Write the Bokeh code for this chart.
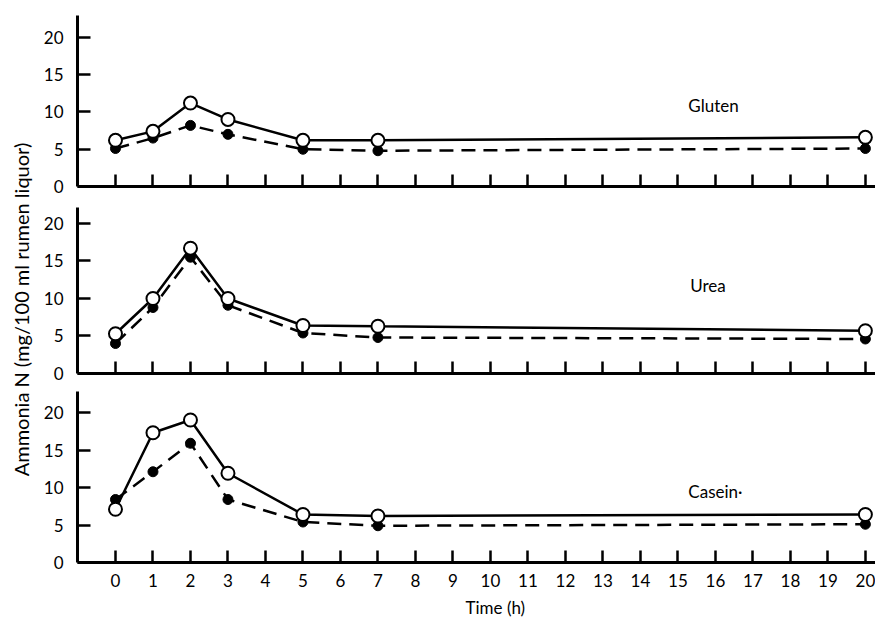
import math
from bokeh.plotting import figure
from bokeh.layouts import column, row
from bokeh.models import FixedTicker, Label, Range1d, Title
from bokeh.embed import file_html
from bokeh.resources import INLINE

# ---- data ----
times = [0, 1, 2, 3, 5, 7, 20]
x_ticks = list(range(0, 21))
y_ticks = [0, 5, 10, 15, 20]

gluten_open = [6.2, 7.4, 11.2, 9.0, 6.2, 6.2, 6.6]
gluten_filled = [5.1, 6.5, 8.2, 7.0, 5.0, 4.8, 5.1]
urea_open = [5.3, 10.0, 16.7, 10.0, 6.4, 6.3, 5.7]
urea_filled = [4.0, 8.8, 15.5, 9.1, 5.4, 4.8, 4.6]
casein_open = [7.1, 17.3, 19.0, 11.9, 6.4, 6.2, 6.4]
casein_filled = [8.4, 12.1, 15.9, 8.4, 5.4, 4.9, 5.1]

panel_names = ["Gluten", "Urea", "Casein\u00b7"]
y_label = "Ammonia N (mg/100 ml rumen liquor)"
x_label = "Time (h)"

FONT = "Lato"
LEFT_W = 38
TOTAL_H = 620


def make_panel(y_open, y_filled, name, name_xy, top, fh, bottom, ymax, last):
    p = figure(frame_width=798, frame_height=fh,
               min_border_left=77 - LEFT_W, min_border_right=0,
               min_border_top=top, min_border_bottom=bottom,
               x_range=Range1d(-1.013, 20.27), y_range=Range1d(0, ymax),
               output_backend="svg", toolbar_location=None,
               background_fill_color="white", border_fill_color="white")
    p.outline_line_color = None
    p.grid.visible = False

    for ax in (p.xaxis[0], p.yaxis[0]):
        ax.axis_line_width = 3
        ax.axis_line_color = "black"
        ax.major_tick_line_width = 2.5
        ax.major_tick_line_color = "black"
        ax.major_tick_out = 0
        ax.minor_tick_line_color = None
        ax.major_label_text_font = FONT
        ax.major_label_text_font_size = "17px"
        ax.major_label_text_color = "black"
    p.xaxis.ticker = FixedTicker(ticks=x_ticks)
    p.yaxis.ticker = FixedTicker(ticks=y_ticks)
    p.xaxis.major_tick_in = 12
    p.yaxis.major_tick_in = 13
    p.yaxis.major_label_standoff = 14
    if last:
        p.xaxis.major_label_standoff = 11
    else:
        p.xaxis.major_label_overrides = {t: "" for t in x_ticks}
        p.xaxis.major_label_standoff = 0

    p.line(times, y_filled, line_color="black", line_width=2.5, line_dash="14 8")
    p.line(times, y_open, line_color="black", line_width=2.5)
    p.scatter(times, y_filled, size=10, marker="circle",
              fill_color="black", line_color="black")
    p.scatter(times, y_open, size=13, marker="circle",
              fill_color="white", line_color="black", line_width=2)

    p.add_layout(Label(x=name_xy[0], y=name_xy[1], text=name,
                       text_align="center", text_baseline="middle",
                       text_font=FONT, text_font_size="17px", text_color="black"))
    return p


p1 = make_panel(gluten_open, gluten_filled, panel_names[0], (15.95, 10.9),
                15, 171, 11, 22.95, False)
p2 = make_panel(urea_open, urea_filled, panel_names[1], (15.8, 11.7),
                10, 166, 11, 22.13, False)
p3 = make_panel(casein_open, casein_filled, panel_names[2], (16.0, 9.5),
                7, 171, 0, 22.8, True)
p3.add_layout(Title(text=x_label, align="left", offset=388, standoff=11,
                    text_font=FONT, text_font_size="17px",
                    text_font_style="normal", text_color="black"), "below")
p3.min_border_bottom = 58

# narrow strip carrying the shared y-axis title
lab = figure(frame_width=LEFT_W, frame_height=TOTAL_H, min_border=0,
             x_range=Range1d(0, LEFT_W), y_range=Range1d(0, TOTAL_H),
             output_backend="svg", toolbar_location=None,
             background_fill_color="white", border_fill_color="white")
lab.outline_line_color = None
lab.grid.visible = False
lab.axis.visible = False
lab.add_layout(Label(x=20, y=TOTAL_H - 309, x_units="screen", y_units="screen",
                     text=y_label, angle=math.pi / 2,
                     text_align="center", text_baseline="middle",
                     text_font=FONT, text_font_size="20px", text_color="black"))

layout = row(lab, column(p1, p2, p3, spacing=0), spacing=0)
open("out.html", "w").write(file_html(layout, INLINE))
